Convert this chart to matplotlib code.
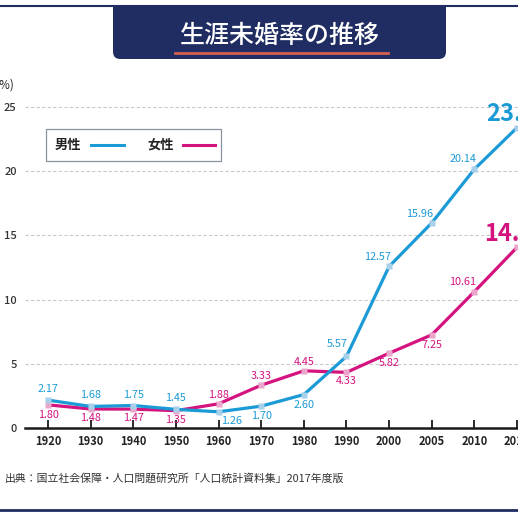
import matplotlib
matplotlib.use("Agg")
import matplotlib.pyplot as plt
from matplotlib.patches import FancyBboxPatch, Rectangle
from matplotlib.lines import Line2D

plt.rcParams['font.family'] = ['Noto Sans CJK JP', 'DejaVu Sans']

# data
years = ['1920', '1930', '1940', '1950', '1960', '1970', '1980', '1990',
         '2000', '2005', '2010', '2015']
male = [2.17, 1.68, 1.75, 1.45, 1.26, 1.70, 2.60, 5.57, 12.57, 15.96, 20.14, 23.37]
female = [1.80, 1.48, 1.47, 1.35, 1.88, 3.33, 4.45, 4.33, 5.82, 7.25, 10.61, 14.06]
yticks = [0, 5, 10, 15, 20, 25]

title = '生涯未婚率の推移'
source = '出典：国立社会保障・人口問題研究所「人口統計資料集」2017年度版'

BLUE = '#1b9ad6'
PINK = '#d4137f'
NAVY = '#1f2d62'
W = H = 518


def px(x, y):
    return x / W, 1 - y / H


fig = plt.figure(figsize=(5.18, 5.18), dpi=100)

# axes placed so categories land where the reference has them
unit = 42.64
left_px, bottom_px = 25, 428
ax = fig.add_axes([left_px / W, 1 - bottom_px / H, (W - left_px) / W, 26 * 12.85 / H])
ax.set_xlim(-23 / unit, 11 + 1 / unit)
ax.set_ylim(0, 26)

xs = list(range(len(years)))
ax.plot(xs, female, color=PINK, lw=2.3, zorder=3, solid_capstyle='round')
ax.plot(xs, female, ls='none', marker='s', ms=4, mfc='#eaa6cb', mec='none', zorder=4)
ax.plot(xs, male, color=BLUE, lw=2.3, zorder=5, solid_capstyle='round')
ax.plot(xs, male, ls='none', marker='s', ms=4, mfc='#a9d0ea', mec='none', zorder=6)

for y in yticks[1:]:
    ax.axhline(y, color='#c9c9c9', lw=0.8, ls=(0, (3, 2)), zorder=1)

for s in ['top', 'right', 'left']:
    ax.spines[s].set_visible(False)
ax.spines['bottom'].set_linewidth(1.8)
ax.spines['bottom'].set_color('#1a1a1a')

ax.set_xticks(xs)
ax.set_xticklabels(years, fontsize=8, color='#222222', fontweight='bold')
ax.tick_params(axis='x', direction='in', length=6, width=1.3, color='#1a1a1a', pad=5)
ax.set_yticks(yticks)
ax.set_yticklabels([str(v) for v in yticks], fontsize=8, color='#333333',
                   fontweight='medium')
ax.tick_params(axis='y', length=0, pad=6)
fig.text(*px(15, 85), '(%)', ha='right', va='center', fontsize=8.5, color='#222222')

# label offsets in pixels (dx, dy, ha)
male_off = [(0, 11, 'center'), (0, 11, 'center'), (0, 11, 'center'), (0, 11, 'center'),
            (2, -9, 'left'), (0, -10, 'center'), (0, -10, 'center'), (-9, 12, 'center'),
            (-12, 9, 'center'), (-12, 9, 'center'), (-11, 10, 'center')]
female_off = [(0, -10, 'center'), (0, -9, 'center'), (0, -9, 'center'), (0, -9, 'center'),
              (0, 9, 'center'), (0, 9, 'center'), (0, 9, 'center'), (0, -9, 'center'),
              (0, -10, 'center'), (0, -10, 'center'), (-12, 10, 'center')]

for i, (dx, dy, ha) in enumerate(male_off):
    ax.annotate(f'{male[i]:.2f}', (xs[i], male[i]), xytext=(dx, dy),
                textcoords='offset pixels', ha=ha, va='center', fontsize=7.8,
                color=BLUE, zorder=7)
for i, (dx, dy, ha) in enumerate(female_off):
    ax.annotate(f'{female[i]:.2f}', (xs[i], female[i]), xytext=(dx, dy),
                textcoords='offset pixels', ha=ha, va='center', fontsize=7.8,
                color=PINK, zorder=7)

ax.annotate(f'{male[-1]:.2f}', (xs[-1], male[-1]), xytext=(-31, 14),
            textcoords='offset pixels', ha='left', va='center', fontsize=17,
            fontweight='bold', color=BLUE, annotation_clip=False)
ax.annotate(f'{female[-1]:.2f}', (xs[-1], female[-1]), xytext=(-33, 13),
            textcoords='offset pixels', ha='left', va='center', fontsize=17,
            fontweight='bold', color=PINK, annotation_clip=False)

# legend box
lx0, ly0 = px(46, 161)
lx1, ly1 = px(221, 129)
fig.add_artist(Rectangle((lx0, ly0), lx1 - lx0, ly1 - ly0, transform=fig.transFigure,
                         facecolor='white', edgecolor='#8a90a0', lw=0.9, zorder=10))
fig.text(*px(55, 145), '男性', ha='left', va='center', fontsize=9.5,
         fontweight='bold', color='#222222', zorder=11)
fig.text(*px(147, 145), '女性', ha='left', va='center', fontsize=9.5,
         fontweight='bold', color='#222222', zorder=11)
for x0, x1, c in [(91, 124, BLUE), (183, 215, PINK)]:
    a, b = px(x0, 145)
    c2, _ = px(x1, 145)
    fig.add_artist(Line2D([a, c2], [b, b], transform=fig.transFigure, color=c,
                          lw=2.2, zorder=11))

# title banner
bx0, by0 = px(113, 59)
bx1, by1 = px(446, -10)
fig.add_artist(FancyBboxPatch((bx0, by0), bx1 - bx0, by1 - by0, transform=fig.transFigure,
                              boxstyle='round,pad=0,rounding_size=0.014',
                              facecolor=NAVY, edgecolor='none', zorder=10))
fig.add_artist(Rectangle(px(0, 6), 1, 6 / H, transform=fig.transFigure,
                         facecolor='white', edgecolor='none', zorder=11))
fig.add_artist(Line2D([0, 1], [px(0, 6)[1]] * 2, transform=fig.transFigure,
                      color=NAVY, lw=1.5, zorder=12))
fig.text(*px(280, 36), title, ha='center', va='center', fontsize=18,
         fontweight='medium', color='white', zorder=12)
ux0, uy = px(175, 53)
ux1, _ = px(388, 53)
fig.add_artist(Line2D([ux0, ux1], [uy, uy], transform=fig.transFigure,
                      color='#d4604e', lw=2, zorder=12))

fig.text(*px(5, 478), source, ha='left', va='center', fontsize=7.8, color='#333333')
fig.add_artist(Line2D([0, 1], [px(0, 510)[1]] * 2, transform=fig.transFigure,
                      color=NAVY, lw=2))

fig.savefig('out.png', dpi=100, facecolor='white')
